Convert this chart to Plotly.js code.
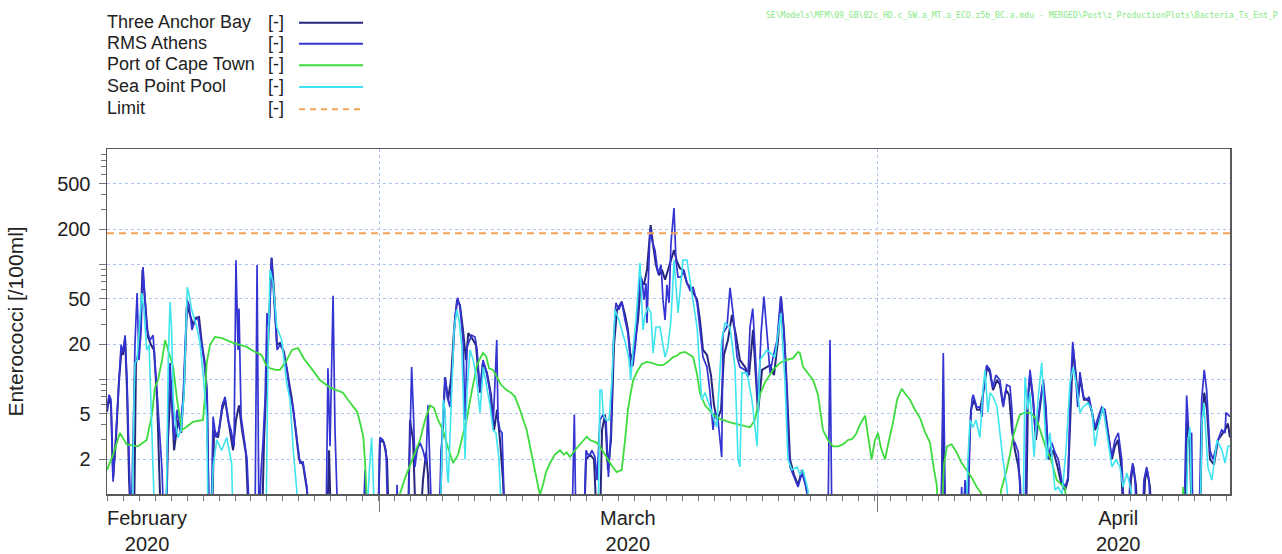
<!DOCTYPE html>
<html><head><meta charset="utf-8">
<script src="https://cdn.plot.ly/plotly-3.0.1.min.js"></script>
<style>html,body{margin:0;padding:0;background:#fff;}#chart{width:1282px;height:554px;}</style>
</head><body><div id="chart"></div>
<script>
// time = days since 2020-02-01 00:00 ; value = Enterococci [/100ml] (values < 1 fall below the axis)
const seriesNames = ['Three Anchor Bay', 'RMS Athens', 'Port of Cape Town', 'Sea Point Pool', 'Limit'];
const unitLabel = '[-]';
const axisDays = 70.19;
const majorGridDays = [17.06, 48.13];
const monthLabels = ['February<br>2020', 'March<br>2020', 'April<br>2020'];
const monthLabelDays = [2.5, 32.56, 63.19];
const yTickVals = [2, 5, 10, 20, 50, 100, 200, 500];
const yTickText = ['2', '5', '', '20', '50', '', '200', '500'];
const yMinorVals = [3,4,6,7,8,9,30,40,60,70,80,90,300,400,600,700,800,900];
const limitValue = 185;

const threeAnchorBay = [[0,5.2],[0.13,6.9],[0.25,5.9],[0.38,1.38],[0.56,2.95],[0.75,9.8],[0.91,17.9],[1.0,16.2],[1.13,22.7],[1.25,8],[1.38,1.32],[1.5,0.5],[1.69,0.5],[1.81,13.8],[1.94,16.2],[2.06,21.8],[2.22,89],[2.38,44],[2.56,23.2],[2.75,19.8],[2.94,17.9],[3.13,6.6],[3.25,2],[3.38,0.5],[3.69,0.5],[3.81,2.95],[4.0,9.8],[4.19,2.4],[4.44,4.4],[4.63,3.4],[4.81,8],[5.0,44],[5.19,36],[5.38,29.5],[5.56,34],[5.75,34.6],[5.94,19.8],[6.13,13.2],[6.25,7.3],[6.38,0.5],[6.56,0.5],[6.69,3.6],[6.94,3.1],[7.19,5.4],[7.38,6.6],[7.63,3.95],[7.88,2.4],[8.06,4.4],[8.25,5.9],[8.44,3.6],[8.69,2.2],[8.88,0.5],[9.69,0.5],[9.81,2.8],[10.0,14.6],[10.13,32.6],[10.29,113],[10.44,59],[10.63,19.8],[10.81,20.6],[11.06,17.2],[11.31,10.8],[11.56,6.6],[11.81,3.4],[12.0,2],[12.25,1.8],[12.5,1.08],[12.63,0.5],[13.75,0.5],[13.88,2.4],[14.0,0.5],[16.94,0.5],[17.06,2.95],[17.31,2.8],[17.5,2],[17.63,0.5],[18.81,0.5],[18.94,4.4],[19.13,2.95],[19.31,0.5],[19.56,0.5],[19.75,1.32],[19.94,2.3],[20.06,1.47],[20.19,0.5],[20.81,0.5],[20.94,2.95],[21.13,10.4],[21.31,6.6],[21.5,9.8],[21.69,26.7],[21.88,49],[22.06,44],[22.25,26.7],[22.44,14.6],[22.58,25.1],[22.81,22.7],[23.06,19.8],[23.31,7.6],[23.5,13.8],[23.75,11.3],[24.0,7.3],[24.19,3.6],[24.38,5.4],[24.56,2.95],[24.75,1.32],[24.88,0.5],[29.81,0.5],[29.94,2],[30.19,2.2],[30.44,2],[30.63,0.5],[30.81,0.5],[30.94,3.6],[31.13,4.9],[31.31,1.62],[31.5,2.95],[31.69,19.8],[31.88,40],[32.17,47],[32.38,36],[32.56,26.7],[32.75,14.6],[32.94,17.9],[33.19,32.6],[33.38,73],[33.56,66],[33.75,89],[33.98,218],[34.13,147],[34.31,98],[34.5,80],[34.69,89],[34.88,73],[35.06,89],[35.25,108],[35.44,132],[35.63,104],[35.81,92],[36.0,89],[36.25,68],[36.44,63],[36.69,54],[36.88,49],[37.06,32.6],[37.25,17.9],[37.5,16.2],[37.75,10.8],[37.94,5.9],[38.13,4.4],[38.38,5.4],[38.56,16.2],[38.81,21.8],[39.06,36],[39.31,24.1],[39.56,14.6],[39.88,12.7],[40.13,10.8],[40.38,26.7],[40.56,10.8],[40.69,5.1],[40.94,12],[41.19,12.7],[41.44,13.2],[41.69,10.8],[41.94,21.8],[42.13,52],[42.31,26.7],[42.5,8],[42.69,2],[42.94,1.47],[43.19,1.2],[43.44,1.62],[43.69,1.2],[44.06,0.5],[52.13,0.5],[52.25,4.4],[52.38,0.5],[53.63,0.5],[53.81,1.32],[54.0,5.4],[54.19,6.6],[54.38,5.4],[54.56,5.4],[54.75,7.3],[55.0,12.7],[55.19,11.3],[55.38,8],[55.63,9.8],[55.81,8.9],[56.0,5.9],[56.19,8],[56.38,7.3],[56.56,3.6],[56.75,2.4],[56.94,1.8],[57.06,1.32],[57.19,0.5],[57.44,0.5],[57.56,6.6],[57.69,10.8],[57.88,6.6],[58.06,2.95],[58.31,5.4],[58.5,9.2],[58.69,4.4],[58.88,2],[59.13,2.4],[59.38,1.8],[59.63,1.25],[59.88,1.08],[60.06,1.32],[60.25,8],[60.38,18.6],[60.56,10.8],[60.69,6.6],[60.84,10.2],[61.06,6.6],[61.31,6.6],[61.56,5.2],[61.75,3.6],[62.0,4.4],[62.19,5.4],[62.38,4.9],[62.63,2.95],[62.81,2],[63.0,2.6],[63.19,2.95],[63.38,1.8],[63.56,0.5],[63.81,0.5],[64.0,1.32],[64.13,1.8],[64.31,1.2],[64.44,0.5],[64.75,0.5],[64.88,1.32],[65.0,1.62],[65.19,1.15],[65.31,0.5],[67.38,0.5],[67.5,4.4],[67.69,2.4],[67.81,0.5],[68.31,0.5],[68.44,4.4],[68.58,7.6],[68.75,5.4],[68.94,2],[69.19,1.8],[69.44,2.95],[69.69,3.3],[69.88,3.6],[70.06,4.1],[70.19,3.1]];

const rmsAthens = [[0,5.4],[0.13,7.3],[0.25,6.6],[0.38,1.28],[0.5,2.4],[0.69,6.6],[0.88,19.8],[1.0,17],[1.13,24],[1.25,9.8],[1.38,1.6],[1.5,0.5],[1.63,2.95],[1.75,20.6],[1.88,56],[2.0,14.6],[2.13,26.7],[2.25,94],[2.38,49],[2.5,26.7],[2.69,21.8],[2.88,24],[3.13,7.6],[3.31,2.95],[3.44,1.6],[3.56,0.5],[3.69,0.5],[3.81,4.4],[3.94,13.8],[4.06,6.6],[4.19,2.95],[4.38,5.4],[4.56,3.6],[4.75,6.6],[4.88,21.8],[5.0,49],[5.13,44],[5.31,26.7],[5.5,32.6],[5.69,34],[5.88,21.8],[6.06,14.6],[6.25,8],[6.38,0.5],[6.5,0.5],[6.63,4.7],[6.81,3.1],[7.0,3.6],[7.19,5.9],[7.38,7.0],[7.56,4.4],[7.75,3.6],[7.94,2.6],[8.06,108],[8.19,17.9],[8.25,41],[8.38,4.7],[8.56,2.95],[8.75,2.0],[8.94,0.5],[9.25,0.5],[9.38,98],[9.5,0.5],[9.63,1.6],[9.75,2.8],[9.88,6.6],[10.0,37.5],[10.13,26.7],[10.28,113],[10.44,49],[10.63,17.9],[10.81,19.8],[11.0,17.9],[11.25,12],[11.44,7.3],[11.63,5.7],[11.88,2.95],[12.06,1.86],[12.25,1.9],[12.5,1.15],[12.63,0.5],[13.69,0.5],[13.81,12.4],[13.94,2.6],[14.13,53],[14.25,3.6],[14.44,0.5],[16.0,0.5],[16.13,1.62],[16.25,0.5],[16.94,0.5],[17.06,3.1],[17.25,2.95],[17.44,2.4],[17.56,0.5],[18.06,0.5],[18.13,1.2],[18.19,0.5],[18.81,0.5],[18.88,1.72],[19.04,12.7],[19.16,4.7],[19.25,1.72],[19.38,2.4],[19.56,2.8],[19.75,2.4],[19.94,1.86],[20.06,5.9],[20.19,2.0],[20.31,0.5],[20.75,0.5],[20.88,2.4],[21.0,3.4],[21.13,10.4],[21.31,6.6],[21.44,5.7],[21.63,16.2],[21.75,34.6],[21.92,51],[22.06,42],[22.25,21.8],[22.38,4.4],[22.5,19],[22.79,24],[23.0,23.2],[23.13,17.9],[23.31,8],[23.5,14.6],[23.69,12],[23.94,7.6],[24.13,3.8],[24.36,21.8],[24.44,4.4],[24.56,3.6],[24.69,3.4],[24.88,0.5],[29.06,0.5],[29.21,4.9],[29.31,0.5],[29.81,0.5],[29.94,2.4],[30.13,2.1],[30.31,2.4],[30.5,2.1],[30.63,1.32],[30.81,4.4],[31.0,4.9],[31.19,4.4],[31.34,1.41],[31.5,3.6],[31.66,21.8],[31.81,46],[32.0,40],[32.17,47],[32.38,32.6],[32.56,25],[32.75,12.7],[32.88,13.2],[33.06,21.8],[33.31,80],[33.44,73],[33.56,49],[33.69,68],[33.75,30.7],[33.94,200],[34.06,162],[34.25,132],[34.44,82],[34.63,98],[34.75,49],[34.88,32.6],[35.0,66],[35.13,46],[35.25,152],[35.44,307],[35.56,108],[35.69,77],[35.88,77],[36.06,89],[36.25,68],[36.44,59],[36.63,63],[36.88,46],[37.06,28.3],[37.25,15.5],[37.5,12.7],[37.69,7.6],[37.88,3.6],[38.0,5.1],[38.19,4.4],[38.42,2.1],[38.5,25],[38.75,28.3],[38.94,62],[39.13,37.5],[39.38,15.5],[39.56,12.7],[39.88,12],[40.06,10.4],[40.19,28.3],[40.36,41],[40.5,19],[40.69,5.7],[40.88,25],[41.06,52],[41.25,25],[41.44,11.3],[41.63,15.5],[41.88,21.8],[42.11,52],[42.25,32.6],[42.44,12.7],[42.56,3.4],[42.69,1.72],[43.0,1.32],[43.19,1.15],[43.44,1.52],[43.69,1.14],[44.13,0.5],[45.06,0.5],[45.19,21.8],[45.31,0.5],[52.13,0.5],[52.27,16.8],[52.41,0.5],[53.31,0.5],[53.42,1.15],[53.5,0.5],[53.63,1.32],[53.75,0.5],[53.81,0.5],[53.94,3.6],[54.06,6.6],[54.14,7.3],[54.36,5.7],[54.56,5.7],[54.69,4.7],[54.77,8],[54.98,13.2],[55.19,12],[55.36,8.4],[55.56,10.8],[55.81,9.8],[56.02,5.7],[56.23,8.9],[56.44,8.6],[56.56,5.4],[56.64,2.8],[56.75,2.8],[56.96,2.3],[57.06,1.32],[57.17,0.5],[57.38,0.5],[57.48,4.7],[57.69,12],[57.88,7.0],[58.0,3.8],[58.11,3.4],[58.31,6.2],[58.52,9.8],[58.69,5.7],[58.83,2.0],[59.04,2.8],[59.25,2.3],[59.46,2.0],[59.67,1.32],[59.88,1.15],[60.08,1.41],[60.19,6.6],[60.36,21],[60.5,12.7],[60.67,5.7],[60.81,11.5],[61.02,7.0],[61.23,6.6],[61.38,7.0],[61.54,5.4],[61.75,3.8],[61.96,4.7],[62.17,5.7],[62.38,5.4],[62.58,3.4],[62.79,2.1],[63.0,2.95],[63.21,3.4],[63.42,2.0],[63.63,0.5],[63.81,0.5],[63.94,1.32],[64.11,1.86],[64.25,1.32],[64.38,0.5],[64.69,0.5],[64.81,1.32],[64.98,1.72],[65.13,1.32],[65.25,0.5],[67.31,0.5],[67.48,7.2],[67.63,3.1],[67.79,3.4],[67.88,0.5],[68.25,0.5],[68.42,6.6],[68.58,12],[68.73,8],[68.94,2.4],[69.13,2.0],[69.44,2.95],[69.67,3.6],[69.88,3.4],[69.94,5.1],[70.19,4.7]];

const portOfCapeTown = [[0,1.62],[0.38,2.2],[0.81,3.4],[1.23,2.7],[1.94,2.6],[2.48,2.95],[2.81,4.9],[3.0,8.5],[3.19,9.8],[3.44,14.6],[3.63,21.8],[3.81,17.9],[4.13,12.8],[4.38,6.6],[4.67,3.6],[4.94,3.8],[5.38,4.25],[6.0,4.4],[6.13,7.3],[6.23,13.8],[6.44,19.8],[6.75,23.2],[7.19,22.7],[7.88,20.6],[8.73,19],[9.25,17.2],[9.67,16.2],[9.94,13.2],[10.19,12.4],[10.56,12],[10.81,12],[11.19,14.2],[11.56,17.9],[11.94,18.6],[12.31,15],[12.69,12.8],[13.31,9.8],[13.94,8.4],[14.38,8],[14.75,7.6],[15.06,6.6],[15.38,5.8],[15.63,5.2],[15.81,4.2],[16.02,3.15],[16.13,1.86],[16.23,1.02],[16.31,0.5],[18.19,0.5],[18.31,1.0],[18.63,1.38],[19.13,2.1],[19.56,2.95],[19.88,4.4],[20.19,5.9],[20.44,5.6],[20.69,4.4],[21.0,3.6],[21.25,2.7],[21.63,1.86],[21.94,2.2],[22.25,3.3],[22.48,4.4],[22.81,8],[23.13,13.2],[23.31,15],[23.5,16.8],[23.69,15.8],[23.88,12.4],[24.13,12],[24.38,10.2],[24.63,8.9],[24.98,8],[25.25,7.6],[25.5,7],[25.81,5.4],[26.23,3.6],[26.5,2.4],[26.75,1.62],[26.94,1.2],[27.06,0.98],[27.25,1.2],[27.44,1.55],[27.69,1.86],[28.0,2.2],[28.31,2.4],[28.56,2.2],[28.73,2.3],[28.94,2.1],[29.25,2.4],[29.56,2.7],[29.98,3.15],[30.19,2.95],[30.61,2.8],[30.88,2.5],[31.23,2.1],[31.56,1.75],[31.86,1.55],[32.17,1.62],[32.38,2.95],[32.56,5.4],[32.69,7],[32.89,9.8],[33.19,12],[33.44,13.5],[33.73,14.1],[34.06,13.8],[34.44,13.2],[34.75,13.2],[35.06,14.1],[35.38,15.5],[35.63,16],[35.81,16.8],[36.13,17.2],[36.44,16.2],[36.63,15.5],[36.88,11],[37.06,7.5],[37.38,5.9],[37.69,5.2],[37.88,4.9],[38.31,4.5],[38.94,4.2],[39.56,4.0],[40.19,3.8],[40.5,4.4],[40.81,7.3],[41.13,9.4],[41.63,12],[42.06,13.8],[42.44,14.6],[42.88,15.2],[43.19,17.2],[43.31,16.8],[43.5,12.8],[43.75,11.5],[44.13,9.8],[44.44,7.3],[44.75,3.6],[45.06,2.95],[45.38,2.6],[45.69,2.6],[46.0,2.7],[46.31,2.95],[46.56,3.0],[46.81,3.3],[47.06,4.0],[47.38,4.8],[47.56,3.25],[47.79,2.0],[48.0,2.95],[48.19,3.4],[48.38,2.5],[48.63,2.0],[48.88,2.95],[49.13,4.2],[49.38,6.6],[49.67,8.2],[49.94,7.3],[50.19,6.6],[50.5,5.4],[50.81,4.6],[51.13,3.45],[51.44,2.8],[51.69,1.62],[51.86,1.2],[52.0,0.5],[52.13,0.5],[52.31,1.8],[52.5,2.6],[52.79,2.7],[53.11,2.3],[53.38,1.9],[53.73,1.62],[54.06,1.38],[54.36,1.15],[54.63,1.02],[54.77,0.5],[55.69,0.5],[55.88,1.08],[56.23,1.62],[56.44,2.2],[56.63,3.15],[56.88,4.1],[57.06,4.9],[57.38,5.1],[57.69,5.1],[57.94,4.7],[58.11,4.4],[58.38,3.4],[58.73,2.4],[59.0,2.0],[59.36,1.32],[59.63,1.22],[59.88,1.13],[60.06,0.5],[67.13,0.5],[67.27,1.15],[67.38,0.5],[70.19,0.5]];

const seaPointPool = [[0,0.5],[1.56,0.5],[1.69,6.6],[1.75,13.8],[1.88,14.6],[2.0,26.7],[2.17,56],[2.31,40],[2.48,17.9],[2.63,19.8],[2.79,4.7],[2.88,2],[3.0,0.5],[3.69,0.5],[3.75,2.95],[3.83,14.6],[3.94,47],[4.04,26.7],[4.14,6.6],[4.25,4.4],[4.44,3.1],[4.63,3.6],[4.81,7.3],[4.94,32.6],[5.02,63],[5.13,54],[5.29,40],[5.61,28.3],[5.81,20.6],[6.02,10.4],[6.23,4.7],[6.33,0.5],[6.5,0.5],[6.63,1.72],[6.86,2.95],[7.17,2.4],[7.48,3.1],[7.79,1.86],[7.89,0.5],[9.94,0.5],[10.06,14.6],[10.19,89],[10.39,68],[10.61,28.3],[10.92,21.8],[11.23,9.2],[11.44,6.6],[11.64,2.4],[11.86,1.08],[11.94,0.5],[16.19,0.5],[16.44,2],[16.54,3.1],[16.64,1.32],[16.75,0.5],[20.81,0.5],[20.94,2],[21.02,6.6],[21.13,5.4],[21.25,1.62],[21.33,1.25],[21.44,2.95],[21.56,9.8],[21.69,26.7],[21.86,40],[22.0,32.6],[22.17,19.8],[22.27,6.6],[22.38,2],[22.5,8],[22.69,17.9],[22.89,14.6],[23.11,9.8],[23.31,5.1],[23.52,12.7],[23.73,8.6],[23.94,5.9],[24.13,3.6],[24.31,3.4],[24.5,2],[24.69,0.5],[30.69,0.5],[30.81,8],[30.92,8],[31.02,4.9],[31.19,4.4],[31.38,4.4],[31.56,9.8],[31.75,40],[32.0,32.6],[32.19,26.7],[32.44,19.8],[32.63,14.6],[32.73,9.8],[32.88,17.9],[33.06,32.6],[33.31,102],[33.5,26.7],[33.63,36],[33.81,42],[34.0,37.5],[34.13,16.8],[34.31,28.3],[34.56,28.3],[34.88,15.5],[35.06,19],[35.25,32.6],[35.44,108],[35.69,37.5],[36.0,108],[36.25,108],[36.56,56],[36.88,28.3],[37.17,6.6],[37.38,7.6],[37.69,5.7],[38.11,3.8],[38.42,21.8],[38.63,30.7],[38.94,28.3],[39.25,12.7],[39.44,2],[39.56,1.72],[39.69,11.3],[40.0,11.3],[40.31,6.6],[40.63,2.6],[40.81,14.6],[41.25,17.9],[41.75,15.5],[42.11,37.5],[42.38,9.2],[42.56,2],[42.81,1.62],[43.13,1.72],[43.31,1.47],[43.5,1.62],[43.81,1.08],[43.94,0.5],[53.69,0.5],[53.81,2],[53.94,4.4],[54.13,3.8],[54.31,4.4],[54.56,3.1],[54.75,8],[54.88,12],[55.06,5.1],[55.19,7.6],[55.38,7],[55.63,5.7],[55.81,3.4],[56.0,2],[56.25,1.15],[56.44,0.5],[57.25,0.5],[57.38,10.4],[57.56,5.4],[57.69,7.6],[57.94,2.1],[58.06,3.6],[58.19,6.6],[58.42,13.8],[58.52,8],[58.73,2],[58.94,3.4],[59.25,1.08],[59.44,1.15],[59.69,1.0],[59.94,2.4],[60.19,9.2],[60.39,12.7],[60.61,8.6],[60.81,5.1],[61.0,5.7],[61.31,6.2],[61.56,5.4],[61.75,2.6],[61.94,3.8],[62.25,5.7],[62.56,2.95],[62.81,1.72],[63.06,2],[63.31,1.72],[63.5,1.15],[63.75,1.52],[64.0,1.08],[64.25,0.5],[67.44,0.5],[67.56,2.95],[67.69,3.8],[67.81,0.5],[68.31,0.5],[68.44,4.4],[68.56,6.2],[68.81,1.72],[69.06,1.32],[69.38,2.95],[69.69,2.4],[69.88,1.86],[70.06,2.6],[70.19,2.6]];

const limitSeries = [[0, limitValue], [axisDays, limitValue]];

const DAY_MS = 86400000;
const T0 = Date.UTC(2020, 1, 1);
function dayToDate(d) { return new Date(T0 + d * DAY_MS).toISOString().slice(0, 23).replace('T', ' '); }

const colors = ['#26267c', '#3434d2', '#3ddb3d', '#3ee4ee', '#f5a457'];
const widths = [2, 1.7, 1.8, 1.6, 2];
const dashes = ['solid', 'solid', 'solid', 'solid', '7px,5px'];
const allSeries = [threeAnchorBay, rmsAthens, portOfCapeTown, seaPointPool, limitSeries];

const traces = allSeries.map((s, i) => ({
  type: 'scatter', mode: 'lines', name: seriesNames[i],
  x: s.map(p => dayToDate(p[0])), y: s.map(p => p[1]),
  line: { color: colors[i], width: widths[i], dash: dashes[i] },
  hoverinfo: 'skip'
}));

const FONT = 'Liberation Sans, Arial, sans-serif';
const plotL = 107, plotR = 1230, plotT = 149, plotB = 494;
const pw = plotR - plotL, ph = plotB - plotT;
const pxX = px => (px - plotL) / pw;
const pxY = py => (plotB - py) / ph;

const annotations = [];
const shapes = [];
const legendRows = [21.7, 42.7, 64.3, 86, 108.3];
seriesNames.forEach((n, i) => {
  annotations.push({ xref: 'paper', yref: 'paper', x: pxX(105), y: pxY(legendRows[i]), xanchor: 'left', yanchor: 'middle',
    text: n, showarrow: false, font: { family: FONT, size: 18, color: '#222' } });
  annotations.push({ xref: 'paper', yref: 'paper', x: pxX(266), y: pxY(legendRows[i]), xanchor: 'left', yanchor: 'middle',
    text: unitLabel, showarrow: false, font: { family: FONT, size: 18, color: '#222' } });
  shapes.push({ type: 'line', xref: 'paper', yref: 'paper', x0: pxX(299), x1: pxX(363), y0: pxY(legendRows[i] + 1), y1: pxY(legendRows[i] + 1),
    line: { color: colors[i], width: 2, dash: i === 4 ? '6px,5px' : 'solid' } });
});
monthLabels.forEach((m, i) => {
  annotations.push({ xref: 'x', yref: 'paper', x: dayToDate(monthLabelDays[i]), y: pxY(505), xanchor: 'center', yanchor: 'top',
    text: m, showarrow: false, font: { family: FONT, size: 20, color: '#222' } });
});
annotations.push({ xref: 'paper', yref: 'paper', x: pxX(1280), y: pxY(15), xanchor: 'right', yanchor: 'middle', showarrow: false,
  text: 'SE\\Models\\MFM\\09_GB\\02c_HD.c_SW.a_MT.a_ECO.z5b_BC.a.mdu - MERGED\\Post\\z_ProductionPlots\\Bacteria_Ts_Ent_P',
  font: { family: 'DejaVu Sans Mono, monospace', size: 8.1, color: '#86e886' } });

const layout = {
  width: 1282, height: 554,
  margin: { l: plotL, r: 1282 - plotR, t: plotT, b: 554 - plotB, pad: 0 },
  paper_bgcolor: '#fff', plot_bgcolor: '#fff',
  showlegend: false,
  font: { family: FONT, size: 20, color: '#222' },
  xaxis: {
    type: 'date', range: [dayToDate(0), dayToDate(axisDays)],
    tickmode: 'array', tickvals: majorGridDays.map(dayToDate), ticktext: majorGridDays.map(() => ''),
    ticks: 'outside', ticklen: 16, tickcolor: '#777', tickwidth: 1,
    showgrid: true, gridcolor: '#aac6ee', griddash: 'dot', gridwidth: 1,
    minor: { tickmode: 'linear', tick0: dayToDate(0), dtick: DAY_MS, ticks: 'outside', ticklen: 5, tickcolor: '#777', tickwidth: 1, showgrid: false },
    showline: true, linecolor: '#5a5a5a', linewidth: 1.5, mirror: true, zeroline: false, fixedrange: true
  },
  yaxis: {
    type: 'log', range: [0, 3],
    tickmode: 'array', tickvals: yTickVals, ticktext: yTickText,
    ticks: 'outside', ticklen: 7, tickcolor: '#777', tickwidth: 1,
    ticklabelstandoff: 4,
    tickfont: { family: FONT, size: 20, color: '#222' },
    showgrid: true, gridcolor: '#aac6ee', griddash: 'dot', gridwidth: 1,
    minor: { tickmode: 'array', tickvals: yMinorVals, ticks: 'outside', ticklen: 5, tickcolor: '#777', tickwidth: 1, showgrid: false },
    showline: true, linecolor: '#5a5a5a', linewidth: 1.5, mirror: true, zeroline: false, fixedrange: true,
    title: { text: 'Enterococci [/100ml]', font: { family: FONT, size: 21, color: '#222' }, standoff: 28 }
  },
  annotations: annotations,
  shapes: shapes
};

Plotly.newPlot('chart', traces, layout, { staticPlot: true, displayModeBar: false });
</script>
</body></html>
